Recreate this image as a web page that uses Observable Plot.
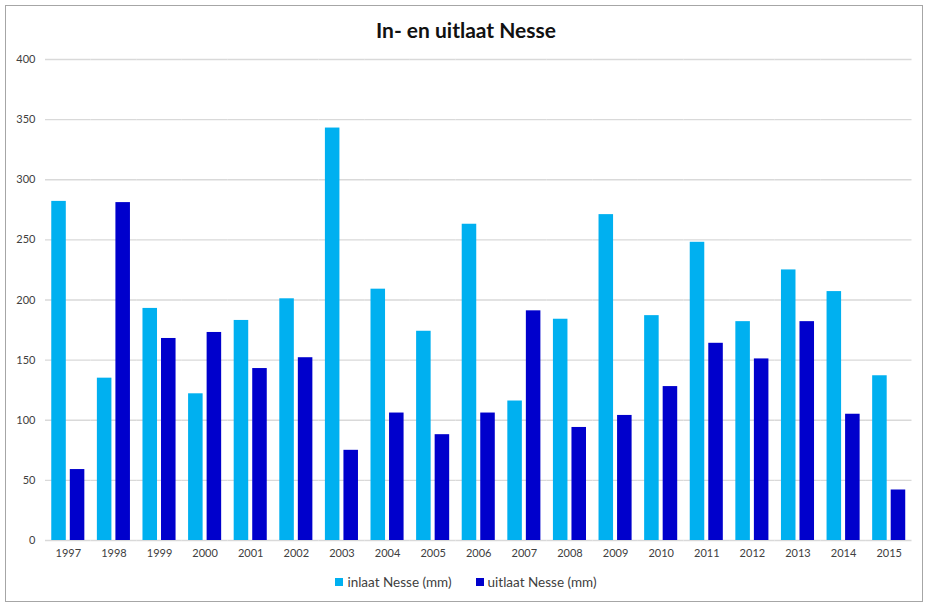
<!DOCTYPE html>
<html>
<head>
<meta charset="utf-8">
<script src="https://cdn.jsdelivr.net/npm/d3@7"></script>
<script src="https://cdn.jsdelivr.net/npm/@observablehq/plot@0.6"></script>
<style>
  html, body { margin: 0; padding: 0; background: #fff; }
  #wrap { position: relative; width: 932px; height: 611px; font-family: Lato, "Open Sans", sans-serif; }
  #frame { position: absolute; left: 5px; top: 5px; width: 918px; height: 597px; border: 1.5px solid #a6a6a6; box-sizing: border-box; }
  #title { position: absolute; left: 0; width: 932px; top: 17px; text-align: center; font-size: 21px; font-weight: bold; color: #111; }
  #chart { position: absolute; left: 0; top: 40px; }
  #legend { position: absolute; left: 0; width: 932px; top: 574px; display: flex; justify-content: center; gap: 24px; font-size: 13.5px; color: #404040; }
  #legend span.item { display: flex; align-items: center; }
  #legend span.sw { display: inline-block; width: 8px; height: 8px; margin-right: 4px; }
</style>
</head>
<body>
<div id="wrap">
  <div id="frame"></div>
  <div id="title">In- en uitlaat Nesse</div>
  <div id="chart"></div>
  <div id="legend"></div>
</div>
<script>
const years = ["1997","1998","1999","2000","2001","2002","2003","2004","2005","2006","2007","2008","2009","2010","2011","2012","2013","2014","2015"];
const inlaat = [282, 135, 193, 122, 183, 201, 343, 209, 174, 263, 116, 184, 271, 187, 248, 182, 225, 207, 137];
const uitlaat = [59, 281, 168, 173, 143, 152, 75, 106, 88, 106, 191, 94, 104, 128, 164, 151, 182, 105, 42];
const series = ["inlaat Nesse (mm)", "uitlaat Nesse (mm)"];
const colors = ["#00b0f0", "#0000cc"];
const yTicks = [0, 50, 100, 150, 200, 250, 300, 350, 400];

const data = [];
years.forEach((y, i) => {
  data.push({year: y, series: series[0], value: inlaat[i]});
  data.push({year: y, series: series[1], value: uitlaat[i]});
});

const chart = Plot.plot({
  width: 932,
  height: 530,
  marginLeft: 45,
  marginRight: 20.5,
  marginTop: 19,
  marginBottom: 30,
  style: {fontFamily: "Lato, 'Open Sans', sans-serif", fontSize: "11px", color: "#404040", background: "transparent"},
  fx: {domain: years, padding: 0, round: false, label: null, tickSize: 0, tickPadding: 9},
  x: {domain: series, axis: null, round: false, paddingInner: 0.216, paddingOuter: 0.338},
  y: {domain: [0, 400], ticks: yTicks, label: null, tickSize: 0, tickPadding: 10},
  color: {domain: series, range: colors},
  marks: [
    Plot.ruleY(yTicks, {stroke: "#d9d9d9", strokeWidth: 1.3}),
    Plot.barY(data, {fx: "year", x: "series", y: "value", fill: "series"})
  ]
});
document.getElementById("chart").appendChild(chart);

const legend = document.getElementById("legend");
series.forEach((s, i) => {
  const item = document.createElement("span");
  item.className = "item";
  const sw = document.createElement("span");
  sw.className = "sw";
  sw.style.background = colors[i];
  item.appendChild(sw);
  item.appendChild(document.createTextNode(s));
  legend.appendChild(item);
});
</script>
</body>
</html>
